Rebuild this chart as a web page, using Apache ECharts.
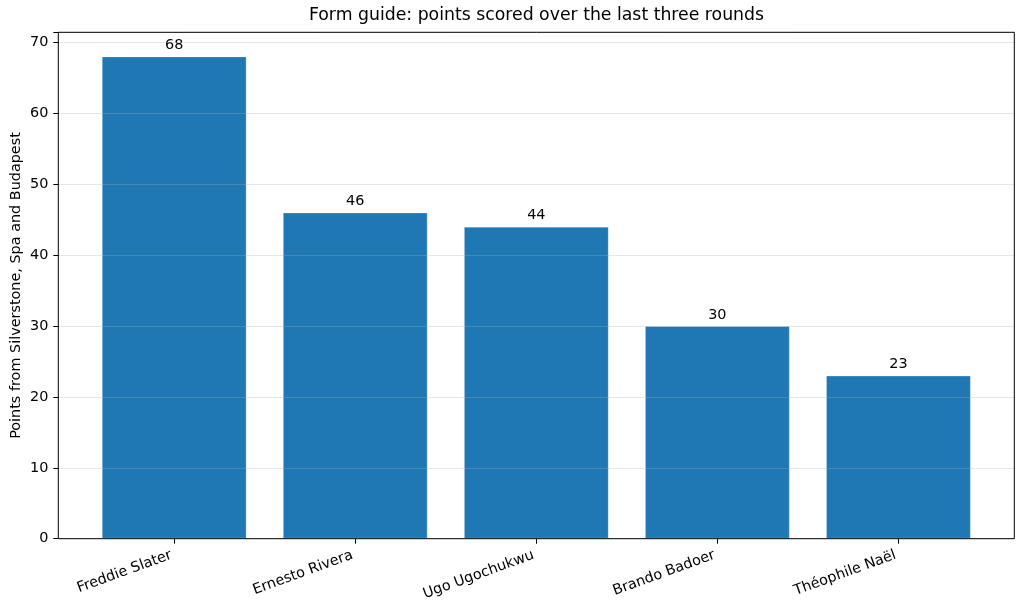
<!DOCTYPE html>
<html>
<head>
<meta charset="utf-8">
<script src="https://cdn.jsdelivr.net/npm/echarts@6/dist/echarts.min.js"></script>
<style>html,body{margin:0;padding:0;background:#fff}#c{width:1024px;height:609px}</style>
</head>
<body>
<div id="c"></div>
<script>
const categories = ["Freddie Slater", "Ernesto Rivera", "Ugo Ugochukwu", "Brando Badoer", "Théophile Naël"];
const points = [68, 46, 44, 30, 23];
const yTicks = [0, 10, 20, 30, 40, 50, 60, 70];
const titleText = "Form guide: points scored over the last three rounds";
const yName = "Points from Silverstone, Spa and Budapest";

const FONT = "DejaVu Sans";
const FS = 14.4;
const yMax = 71.4;
const chart = echarts.init(document.getElementById('c'));
chart.setOption({
  animation: false,
  backgroundColor: '#fff',
  textStyle: { fontFamily: FONT, color: '#000' },
  title: {
    text: titleText, left: 536.5, textAlign: 'center', top: 7, padding: 0,
    textStyle: { fontFamily: FONT, fontSize: 17.3, fontWeight: 'normal', color: '#000' }
  },
  grid: [
    { left: 58.3, right: 9.7, top: 32.3, bottom: 70.3, show: true, z: 10, outerBoundsMode: 'none',
      backgroundColor: 'transparent', borderColor: '#000', borderWidth: 1 },
    { left: 83.65, right: 35.05, top: 32.3, bottom: 70.3, outerBoundsMode: 'none' }
  ],
  xAxis: [
    { gridIndex: 0, type: 'value', min: 0, max: 1, show: false },
    { gridIndex: 1, type: 'category', data: categories,
      axisLine: { show: false },
      axisTick: { show: true, alignWithLabel: true, length: 5, lineStyle: { color: '#000', width: 1 } },
      axisLabel: { rotate: 20, margin: 15, fontSize: FS, color: '#000', fontFamily: FONT, interval: 0,
        padding: [0, 3, 0, 0] },
      splitLine: { show: false } }
  ],
  yAxis: [
    { gridIndex: 0, type: 'value', min: 0, max: yMax, interval: 10, z: 5,
      name: yName, nameLocation: 'middle', nameGap: 35, nameMoveOverlap: false,
      nameTextStyle: { fontFamily: FONT, fontSize: FS, color: '#000' },
      axisLine: { show: false },
      axisTick: { show: true, length: 5, lineStyle: { color: '#000' } },
      axisLabel: { fontSize: FS, color: '#000', fontFamily: FONT, margin: 10,
        formatter: v => yTicks.includes(v) ? String(v) : '' },
      splitLine: { show: true, lineStyle: { color: 'rgba(176,176,176,0.3)', width: 1 } } },
    { gridIndex: 1, type: 'value', min: 0, max: yMax, show: false, splitLine: { show: false } }
  ],
  series: [{
    type: 'bar', xAxisIndex: 1, yAxisIndex: 1,
    data: points, barCategoryGap: '20%',
    itemStyle: { color: '#1f77b4', borderColor: 'rgba(255,255,255,0.25)', borderWidth: 1 },
    label: { show: true, position: 'top', distance: 4, fontSize: FS, color: '#000', fontFamily: FONT }
  }]
});
</script>
</body>
</html>
